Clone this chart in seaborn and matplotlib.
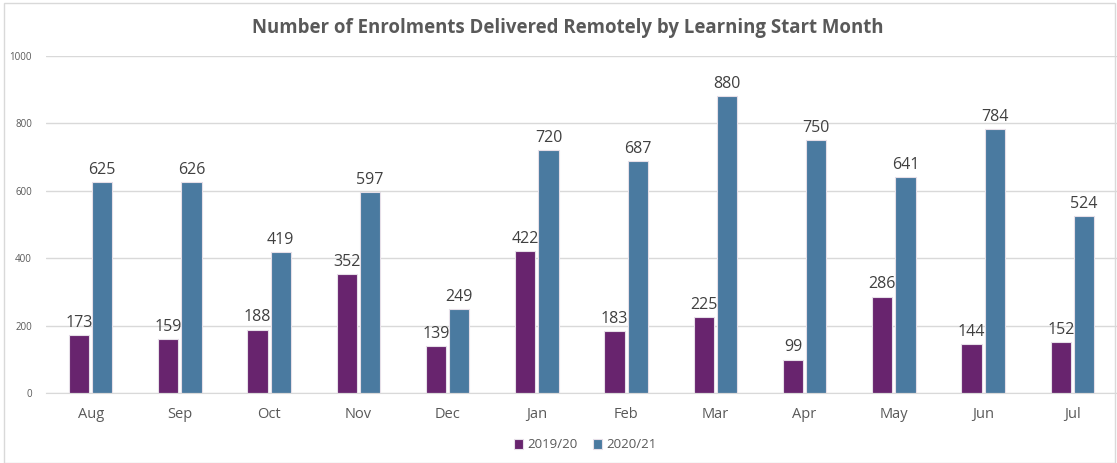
import numpy as np
import pandas as pd
import seaborn as sns
import matplotlib.pyplot as plt

months = ['Aug', 'Sep', 'Oct', 'Nov', 'Dec', 'Jan', 'Feb', 'Mar', 'Apr', 'May', 'Jun', 'Jul']
enrol_1920 = [173, 159, 188, 352, 139, 422, 183, 225, 99, 286, 144, 152]
enrol_2021 = [625, 626, 419, 597, 249, 720, 687, 880, 750, 641, 784, 524]
years = ['2019/20', '2020/21']
colors = ['#68246E', '#4A7AA0']

df = pd.DataFrame({
    'Month': months * 2,
    'Enrolments': enrol_1920 + enrol_2021,
    'Year': [years[0]] * len(months) + [years[1]] * len(months),
})

sns.set_style('white')
plt.rcParams['font.family'] = ['Open Sans', 'DejaVu Sans']

fig = plt.figure(figsize=(11.17, 4.63), dpi=100)
ax = fig.add_axes([46 / 1117, (463 - 393) / 463, 1 - 46 / 1117, (393 - 56) / 463])

sns.barplot(data=df, x='Month', y='Enrolments', hue='Year', palette=colors, saturation=1,
            width=0.52, gap=0.12, edgecolor='#e6dfe8', linewidth=0.8, ax=ax)

for cont in ax.containers:
    ax.bar_label(cont, padding=3, fontsize=11.5, color='#404040')

ax.set_ylim(0, 1000)
ax.set_yticks(range(0, 1001, 200))
ax.set_xlim(-0.5, len(months) - 0.5)
ax.yaxis.grid(True, color='#d9d9d9', linewidth=1)
ax.set_axisbelow(True)
for s in ['top', 'right', 'left']:
    ax.spines[s].set_visible(False)
ax.spines['bottom'].set_color('#d9d9d9')
ax.tick_params(axis='y', labelsize=7, colors='#595959', length=0, pad=10)
ax.tick_params(axis='x', labelsize=10.5, colors='#595959', length=0, pad=10)
ax.set_xlabel('')
ax.set_ylabel('')

ax.legend(loc='center', bbox_to_anchor=(585 / 1117, 1 - 445 / 463), bbox_transform=fig.transFigure,
          ncol=2, frameon=False, fontsize=9.5, handlelength=0.7, handleheight=0.7,
          handletextpad=0.3, columnspacing=1.2, labelcolor='#595959')

fig.text(568 / 1117, 1 - 28 / 463, 'Number of Enrolments Delivered Remotely by Learning Start Month',
         ha='center', va='center', fontsize=13.4, fontweight='bold', color='#595959')

border = plt.Rectangle((4 / 1117, 0), 1 - 6 / 1117, 1 - 3 / 463, transform=fig.transFigure,
                       fill=False, edgecolor='#d9d9d9', linewidth=1)
fig.add_artist(border)

fig.savefig('out.png', dpi=100)
